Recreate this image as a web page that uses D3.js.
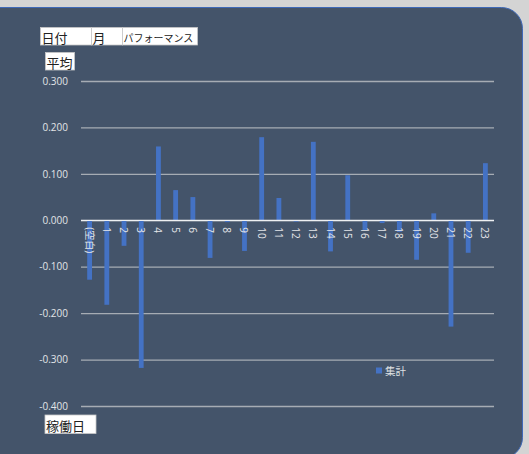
<!DOCTYPE html>
<html>
<head>
<meta charset="utf-8">
<script src="https://cdn.jsdelivr.net/npm/d3@7"></script>
<style>
  body { margin: 0; background: #d4d4d4; }
  text { font-family: "Open Sans", "Noto Sans CJK JP", sans-serif; }
</style>
</head>
<body>
<div id="chart"></div>
<script>
// Categories (稼働日) and averaged performance values
const categories = ["(空白)", "1", "2", "3", "4", "5", "6", "7", "8", "9", "10", "11",
                    "12", "13", "14", "15", "16", "17", "18", "19", "20", "21", "22", "23"];
const values = [-0.128, -0.182, -0.055, -0.318, 0.159, 0.065, 0.050, -0.081, -0.004, -0.066, 0.179, 0.048,
                -0.003, 0.169, -0.067, 0.097, -0.021, -0.006, -0.025, -0.085, 0.015, -0.229, -0.070, 0.123];
const yTicks = [-0.4, -0.3, -0.2, -0.1, 0, 0.1, 0.2, 0.3];
const seriesName = "集計";
const topButtons = ["日付", "月", "パフォーマンス"];

const W = 529, H = 454;
const plot = {left: 81, right: 494, top: 81, bottom: 406};

const svg = d3.select("#chart").append("svg")
    .attr("width", W)
    .attr("height", H);

// page + chart panel
svg.append("rect").attr("width", W).attr("height", H).attr("fill", "#d4d4d4");
svg.append("rect")
    .attr("x", -30).attr("y", 7.5)
    .attr("width", 552.5).attr("height", 451)
    .attr("rx", 21)
    .attr("fill", "#44546a")
    .attr("stroke", "#3e69b8")
    .attr("stroke-width", 1);

const data = categories.map((c, i) => ({cat: c, value: values[i]}));

const x = d3.scaleBand()
    .domain(categories)
    .range([plot.left, plot.right])
    .paddingInner(0.72)
    .paddingOuter(0.36);

const y = d3.scaleLinear()
    .domain([-0.4, 0.3])
    .range([plot.bottom, plot.top]);

// gridlines + y labels (plain hyphen minus like Excel)
const fmt = d => d3.format(".3f")(d).replace("−", "-");
const yAxis = svg.append("g")
    .attr("transform", `translate(${plot.left},0)`)
    .call(d3.axisLeft(y).tickValues(yTicks).tickFormat(fmt)
      .tickSize(-(plot.right - plot.left)).tickPadding(13));
yAxis.select(".domain").remove();
yAxis.selectAll(".tick line").attr("stroke", "#a6acb4").attr("stroke-width", 1.3);
yAxis.selectAll(".tick text")
    .attr("fill", "#e2e4e7")
    .style("font-family", "'Open Sans', sans-serif")
    .style("font-size", "10px");

// bars
svg.selectAll(".bar")
  .data(data)
  .enter()
  .append("rect")
    .attr("class", "bar")
    .attr("x", d => x(d.cat))
    .attr("width", x.bandwidth())
    .attr("y", d => y(Math.max(0, d.value)))
    .attr("height", d => Math.abs(y(d.value) - y(0)))
    .attr("fill", "#4472c4");

// zero axis line
svg.append("line")
    .attr("x1", plot.left).attr("x2", plot.right)
    .attr("y1", y(0)).attr("y2", y(0))
    .attr("stroke", "#eef0f2").attr("stroke-width", 1.3);

// category labels, rotated
svg.selectAll(".cat")
  .data(data)
  .enter()
  .append("text")
    .attr("class", "cat")
    .attr("transform", d => `translate(${x(d.cat) + x.bandwidth() / 2},${y(0) + 7}) rotate(90)`)
    .attr("dominant-baseline", "central")
    .attr("fill", "#e4e6e9")
    .style("font-size", "10px")
    .text(d => d.cat);

// legend
svg.append("rect")
    .attr("x", 376).attr("y", 367.5)
    .attr("width", 6).attr("height", 6)
    .attr("fill", "#4472c4");
svg.append("text")
    .attr("x", 385).attr("y", 371)
    .attr("dominant-baseline", "central")
    .attr("fill", "#dfe1e4")
    .style("font-size", "10.5px")
    .text(seriesName);

// pivot field buttons
function fieldButton(x0, y0, w, h, label, size) {
  svg.append("rect")
      .attr("x", x0).attr("y", y0).attr("width", w).attr("height", h)
      .attr("fill", "#ffffff").attr("stroke", "#c8c8c8").attr("stroke-width", 0.8);
  svg.append("text")
      .attr("x", x0 + 1).attr("y", y0 + h / 2 + 1)
      .attr("dominant-baseline", "central")
      .attr("fill", "#222")
      .style("font-family", "'Noto Sans CJK JP', sans-serif")
      .style("font-size", size + "px")
      .text(label);
}
fieldButton(40.5, 27.5, 51, 17.5, topButtons[0], 13);
fieldButton(91.5, 27.5, 31, 17.5, topButtons[1], 13);
fieldButton(122.5, 27.5, 75, 17.5, topButtons[2], 10);
fieldButton(45.5, 52.5, 29, 17.5, "平均", 13);
fieldButton(45, 415, 51, 18.5, "稼働日", 13);
</script>
</body>
</html>
